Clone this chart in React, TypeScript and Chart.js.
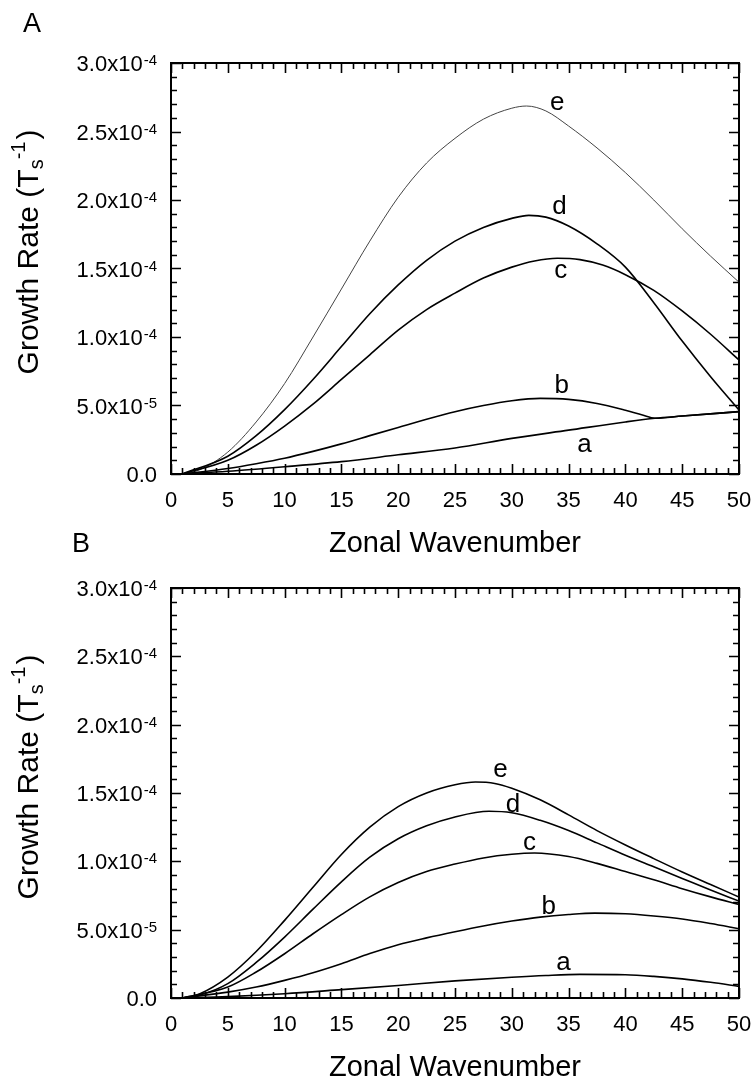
import React, { useEffect, useRef } from 'react';
import { Chart, registerables } from 'chart.js';

Chart.register(...registerables);

const FONT = "'Liberation Sans', Arial, Helvetica, sans-serif";

// ---------- axis definitions ----------
const X_MIN = 0;
const X_MAX = 50;
const X_MAJOR = 5;
const X_MINOR = 1;
const Y_MIN = 0;
const Y_MAX = 3e-4;
const Y_MAJOR = 5e-5;
const Y_MINOR = 1e-5;
const xTickLabels = ['0', '5', '10', '15', '20', '25', '30', '35', '40', '45', '50'];
const xTickValues = [0, 5, 10, 15, 20, 25, 30, 35, 40, 45, 50];
const yTickValues = [0, 5e-5, 1e-4, 1.5e-4, 2e-4, 2.5e-4, 3e-4];
const yTickMantissa = ['0.0', '5.0x10', '1.0x10', '1.5x10', '2.0x10', '2.5x10', '3.0x10'];
const yTickExponent = ['', '-5', '-4', '-4', '-4', '-4', '-4'];
const xAxisTitle = 'Zonal Wavenumber';
const yAxisTitleMain = 'Growth Rate (T';
const yAxisTitleSub = 's';
const yAxisTitleSup = '-1';
const yAxisTitleEnd = ')';

// ---------- panel A data: [wavenumber, growth rate] ----------
const panelA_a: [number, number][] = [
  [1, 0], [5, 0.02e-4], [10, 0.053e-4], [15, 0.09e-4], [20, 0.14e-4], [25, 0.19e-4],
  [30, 0.26e-4], [35, 0.32e-4], [40, 0.38e-4], [42.6, 0.407e-4], [45, 0.423e-4], [50, 0.455e-4],
];
const panelA_b: [number, number][] = [
  [1, 0], [5, 0.04e-4], [7.5, 0.075e-4], [10, 0.115e-4], [12.5, 0.165e-4], [15, 0.22e-4],
  [17.5, 0.28e-4], [20, 0.34e-4], [22.5, 0.40e-4], [25, 0.455e-4], [27.5, 0.50e-4],
  [30, 0.535e-4], [32.5, 0.552e-4], [35, 0.545e-4], [37.5, 0.515e-4], [40, 0.465e-4],
  [41.5, 0.43e-4], [42.6, 0.407e-4], [45, 0.423e-4], [50, 0.455e-4],
];
const panelA_c: [number, number][] = [
  [1, 0], [5, 0.10e-4], [7.5, 0.21e-4], [10, 0.35e-4], [12.5, 0.51e-4], [15, 0.69e-4],
  [17.5, 0.87e-4], [20, 1.05e-4], [22.5, 1.20e-4], [25, 1.32e-4], [27.5, 1.43e-4],
  [30, 1.51e-4], [32, 1.555e-4], [34, 1.575e-4], [36, 1.565e-4], [38, 1.525e-4],
  [40, 1.455e-4], [42.5, 1.34e-4], [45, 1.19e-4], [47.5, 1.02e-4], [50, 0.832e-4],
];
const panelA_d: [number, number][] = [
  [1, 0], [5, 0.13e-4], [7.5, 0.28e-4], [10, 0.47e-4], [12.5, 0.69e-4], [15, 0.93e-4],
  [17.5, 1.17e-4], [20, 1.38e-4], [22.5, 1.56e-4], [25, 1.70e-4], [27.5, 1.80e-4],
  [30, 1.866e-4], [31.5, 1.888e-4], [33, 1.875e-4], [35, 1.81e-4], [37.5, 1.68e-4],
  [40, 1.51e-4], [42.5, 1.25e-4], [45, 0.97e-4], [47.5, 0.71e-4], [50, 0.467e-4],
];
const panelA_e: [number, number][] = [
  [1, 0], [2.5, 0.03e-4], [5, 0.16e-4], [7.5, 0.38e-4], [10, 0.66e-4], [12.5, 1.0e-4],
  [15, 1.35e-4], [17.5, 1.70e-4], [20, 2.02e-4], [22.5, 2.27e-4], [25, 2.45e-4],
  [27.5, 2.59e-4], [30, 2.67e-4], [31.3, 2.686e-4], [33, 2.65e-4], [35, 2.54e-4],
  [37.5, 2.38e-4], [40, 2.20e-4], [42.5, 2.0e-4], [45, 1.79e-4], [47.5, 1.59e-4], [50, 1.40e-4],
];

// ---------- panel B data ----------
const panelB_a: [number, number][] = [
  [1, 0], [5, 0.01e-4], [10, 0.031e-4], [15, 0.061e-4], [20, 0.092e-4], [25, 0.125e-4],
  [30, 0.152e-4], [33, 0.165e-4], [36, 0.173e-4], [40, 0.17e-4], [42.5, 0.158e-4],
  [45, 0.14e-4], [47.5, 0.115e-4], [50, 0.085e-4],
];
const panelB_b: [number, number][] = [
  [1, 0], [5, 0.043e-4], [7.5, 0.08e-4], [10, 0.129e-4], [12.5, 0.185e-4], [15, 0.251e-4],
  [17.5, 0.325e-4], [20, 0.39e-4], [22.5, 0.44e-4], [25, 0.485e-4], [27.5, 0.527e-4],
  [30, 0.563e-4], [32.5, 0.592e-4], [35, 0.611e-4], [37.3, 0.621e-4], [40, 0.616e-4],
  [42.5, 0.60e-4], [45, 0.578e-4], [47.5, 0.545e-4], [50, 0.507e-4],
];
const panelB_c: [number, number][] = [
  [1, 0], [5, 0.08e-4], [7.5, 0.19e-4], [10, 0.324e-4], [12.5, 0.47e-4], [15, 0.61e-4],
  [17.5, 0.74e-4], [20, 0.845e-4], [22.5, 0.925e-4], [25, 0.98e-4], [27.5, 1.025e-4],
  [30, 1.052e-4], [32, 1.061e-4], [35, 1.035e-4], [37.5, 0.985e-4], [40, 0.925e-4],
  [42.5, 0.865e-4], [45, 0.80e-4], [47.5, 0.74e-4], [50, 0.685e-4],
];
const panelB_d: [number, number][] = [
  [1, 0], [2.5, 0.02e-4], [5, 0.105e-4], [7.5, 0.26e-4], [10, 0.446e-4], [12.5, 0.65e-4],
  [15, 0.85e-4], [17.5, 1.03e-4], [20, 1.165e-4], [22.5, 1.26e-4], [25, 1.325e-4],
  [28, 1.366e-4], [30, 1.355e-4], [32.5, 1.30e-4], [35, 1.225e-4], [37.5, 1.135e-4],
  [40, 1.045e-4], [42.5, 0.96e-4], [45, 0.875e-4], [47.5, 0.79e-4], [50, 0.709e-4],
];
const panelB_e: [number, number][] = [
  [1, 0], [2.5, 0.03e-4], [5, 0.153e-4], [7.5, 0.34e-4], [10, 0.568e-4], [12.5, 0.81e-4],
  [15, 1.05e-4], [17.5, 1.25e-4], [20, 1.40e-4], [22.5, 1.50e-4], [25, 1.56e-4],
  [26.8, 1.58e-4], [28.5, 1.57e-4], [30, 1.535e-4], [32.5, 1.45e-4], [35, 1.34e-4],
  [37.5, 1.225e-4], [40, 1.12e-4], [42.5, 1.02e-4], [45, 0.922e-4], [47.5, 0.83e-4], [50, 0.739e-4],
];

// ---------- curve labels ----------
const curveNames = ['a', 'b', 'c', 'd', 'e'];
const labelA_x = [36.4, 34.4, 34.3, 34.2, 34.0];
const labelA_y = [0.161e-4, 0.591e-4, 1.431e-4, 1.898e-4, 2.657e-4];
const labelB_x = [34.55, 33.25, 31.55, 30.1, 29.0];
const labelB_y = [0.202e-4, 0.617e-4, 1.081e-4, 1.361e-4, 1.617e-4];

type Pt = [number, number];

function toPoints(arr: Pt[]) {
  return arr.map(([x, y]) => ({ x, y }));
}

function makeOverlay(letter: string, letterX: number, letterY: number, lx: number[], ly: number[]) {
  return {
    id: 'overlay',
    afterDatasetsDraw(chart: any) {
      const ctx: CanvasRenderingContext2D = chart.ctx;
      const { left, right, top, bottom } = chart.chartArea;
      const xs = chart.scales.x;
      const ys = chart.scales.y;
      ctx.save();
      ctx.strokeStyle = '#000';
      ctx.fillStyle = '#000';
      ctx.lineWidth = 1.6;
      ctx.beginPath();
      const nx = Math.round((X_MAX - X_MIN) / X_MINOR);
      for (let i = 0; i <= nx; i++) {
        const v = X_MIN + i * X_MINOR;
        const px = Math.round(xs.getPixelForValue(v)) + 0.5;
        const major = Math.abs(v / X_MAJOR - Math.round(v / X_MAJOR)) < 1e-6;
        const len = major ? 10 : 6;
        ctx.moveTo(px, bottom);
        ctx.lineTo(px, bottom - len);
        ctx.moveTo(px, top);
        ctx.lineTo(px, top + len);
      }
      const ny = Math.round((Y_MAX - Y_MIN) / Y_MINOR);
      for (let i = 0; i <= ny; i++) {
        const v = Y_MIN + i * Y_MINOR;
        const py = Math.round(ys.getPixelForValue(v)) + 0.5;
        const major = i % Math.round(Y_MAJOR / Y_MINOR) === 0;
        const len = major ? 10 : 6;
        ctx.moveTo(left, py);
        ctx.lineTo(left + len, py);
        ctx.moveTo(right, py);
        ctx.lineTo(right - len, py);
      }
      ctx.stroke();
      ctx.lineWidth = 2;
      ctx.strokeRect(left, top, right - left, bottom - top);

      // x tick labels
      ctx.font = `22px ${FONT}`;
      ctx.textAlign = 'center';
      ctx.textBaseline = 'alphabetic';
      xTickValues.forEach((v, i) => {
        ctx.fillText(xTickLabels[i], xs.getPixelForValue(v), bottom + 33);
      });

      // y tick labels with superscript exponent
      const rightEdge = left - 14;
      yTickValues.forEach((v, i) => {
        const py = ys.getPixelForValue(v);
        const exp = yTickExponent[i];
        ctx.font = `15px ${FONT}`;
        const supW = exp ? ctx.measureText(exp).width : 0;
        ctx.textAlign = 'left';
        if (exp) ctx.fillText(exp, rightEdge - supW, py + 2);
        ctx.font = `22px ${FONT}`;
        ctx.textAlign = 'right';
        ctx.fillText(yTickMantissa[i], rightEdge - supW - (exp ? 1 : 0), py + 8);
      });

      // x axis title
      ctx.font = `29px ${FONT}`;
      ctx.textAlign = 'center';
      ctx.fillText(xAxisTitle, (left + right) / 2, bottom + 78);

      // y axis title (rotated) with subscript and superscript
      ctx.save();
      ctx.translate(38, top + 189);
      ctx.rotate(-Math.PI / 2);
      ctx.textAlign = 'left';
      ctx.font = `30px ${FONT}`;
      const w1 = ctx.measureText(yAxisTitleMain).width;
      const w4 = ctx.measureText(yAxisTitleEnd).width;
      ctx.font = `20px ${FONT}`;
      const w2 = ctx.measureText(yAxisTitleSub).width;
      const w3 = ctx.measureText(yAxisTitleSup).width;
      const total = w1 + w2 + w3 + w4 + 2;
      let cx = -total / 2;
      ctx.font = `30px ${FONT}`;
      ctx.fillText(yAxisTitleMain, cx, 0);
      cx += w1;
      ctx.font = `20px ${FONT}`;
      ctx.fillText(yAxisTitleSub, cx, 5);
      cx += w2;
      ctx.fillText(yAxisTitleSup, cx, -13);
      cx += w3 + 2;
      ctx.font = `30px ${FONT}`;
      ctx.fillText(yAxisTitleEnd, cx, 0);
      ctx.restore();

      // panel letter
      ctx.font = `27px ${FONT}`;
      ctx.textAlign = 'left';
      ctx.fillText(letter, letterX, letterY);

      // curve labels
      ctx.font = `26px ${FONT}`;
      ctx.textAlign = 'center';
      curveNames.forEach((name, i) => {
        ctx.fillText(name, xs.getPixelForValue(lx[i]), ys.getPixelForValue(ly[i]));
      });
      ctx.restore();
    },
  };
}

function makeDatasets(series: Pt[][], widths: number[], colors: string[]) {
  return series.map((s, i) => ({
    label: curveNames[i],
    data: toPoints(s),
    borderColor: colors[i],
    borderWidth: widths[i],
    pointRadius: 0,
    fill: false,
    cubicInterpolationMode: 'monotone' as const,
  }));
}

interface PanelProps {
  top: number;
  height: number;
  padTop: number;
  padBottom: number;
  series: Pt[][];
  widths: number[];
  colors: string[];
  letter: string;
  letterX: number;
  letterY: number;
  lx: number[];
  ly: number[];
}

function Panel(p: PanelProps) {
  const ref = useRef<HTMLCanvasElement | null>(null);
  useEffect(() => {
    if (!ref.current) return;
    const chart = new Chart(ref.current, {
      type: 'line',
      data: { datasets: makeDatasets(p.series, p.widths, p.colors) as any },
      options: {
        responsive: false,
        maintainAspectRatio: false,
        animation: false,
        devicePixelRatio: 1,
        layout: { padding: { left: 171, right: 14, top: p.padTop, bottom: p.padBottom } },
        plugins: { legend: { display: false }, tooltip: { enabled: false } },
        scales: {
          x: { type: 'linear', min: X_MIN, max: X_MAX, display: false },
          y: { type: 'linear', min: Y_MIN, max: Y_MAX, display: false },
        },
      },
      plugins: [makeOverlay(p.letter, p.letterX, p.letterY, p.lx, p.ly)],
    });
    return () => chart.destroy();
  }, []);
  return (
    <canvas
      ref={ref}
      width={753}
      height={p.height}
      style={{ position: 'absolute', left: 0, top: p.top, width: 753, height: p.height }}
    />
  );
}

export default function App() {
  return (
    <div style={{ position: 'absolute', left: 0, top: 0, width: 753, height: 1081, background: '#fff' }}>
      <Panel
        top={0}
        height={560}
        padTop={63}
        padBottom={86}
        series={[panelA_a, panelA_b, panelA_c, panelA_d, panelA_e]}
        widths={[1.6, 1.6, 1.6, 1.6, 1]}
        colors={['#000', '#000', '#000', '#000', '#444']}
        letter="A"
        letterX={23}
        letterY={32}
        lx={labelA_x}
        ly={labelA_y}
      />
      <Panel
        top={520}
        height={561}
        padTop={68}
        padBottom={83}
        series={[panelB_a, panelB_b, panelB_c, panelB_d, panelB_e]}
        widths={[1.6, 1.6, 1.6, 1.6, 1.6]}
        colors={['#000', '#000', '#000', '#000', '#000']}
        letter="B"
        letterX={72}
        letterY={32}
        lx={labelB_x}
        ly={labelB_y}
      />
    </div>
  );
}
